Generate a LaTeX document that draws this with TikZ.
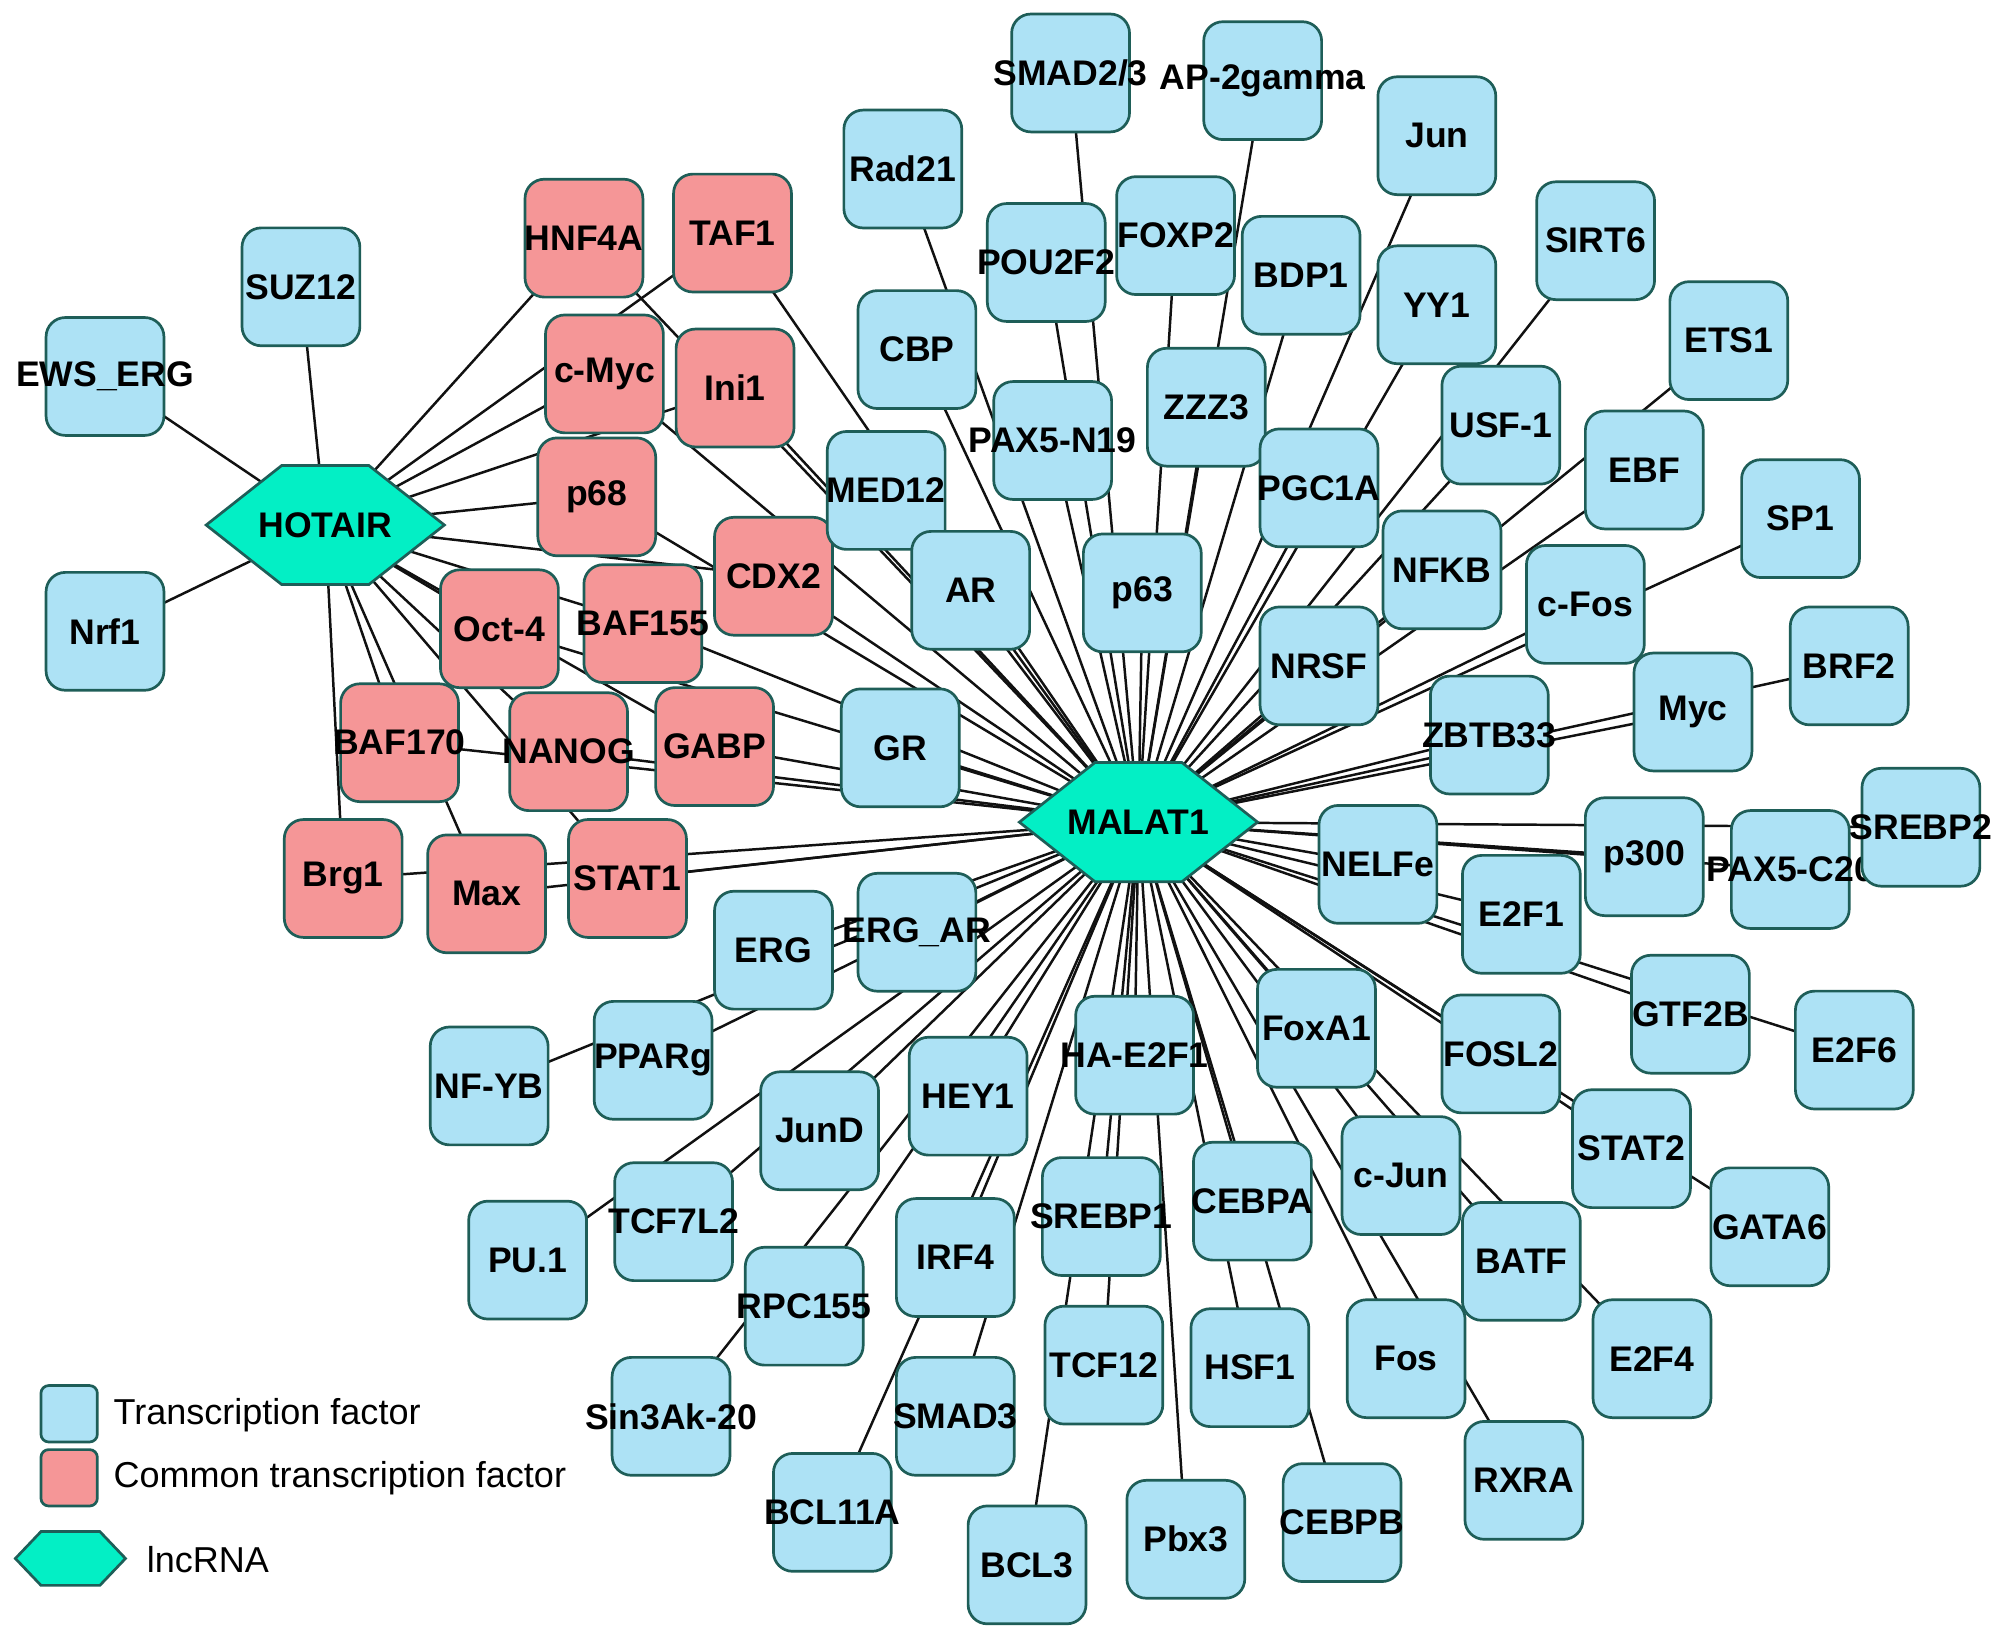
\documentclass[tikz,border=0pt]{standalone}
\usepackage{fontspec}
\setmainfont{Liberation Sans}
\usetikzlibrary{calc,backgrounds}
\definecolor{tfblue}{HTML}{ADE2F5}
\definecolor{ctfred}{HTML}{F59697}
\definecolor{hexfill}{HTML}{03EFC5}
\definecolor{bordc}{HTML}{1E5E58}
\definecolor{edgec}{HTML}{111111}
\tikzset{
  tf/.style={draw=bordc, line width=0.6pt, fill=tfblue, rounded corners=0.15cm,
    minimum width=0.92cm, minimum height=0.92cm, inner sep=0pt},
  ctf/.style={tf, fill=ctfred},
  lbl/.style={inner sep=0pt, font=\bfseries\fontsize{7.9pt}{9pt}\selectfont},
  legtxt/.style={inner sep=0pt, font=\fontsize{8pt}{9.5pt}\selectfont},
  hexs/.style={draw=bordc, line width=0.6pt, fill=hexfill},
  conn/.style={draw=edgec, line width=0.55pt},
}
\newcommand\TF[4]{\node[#1] (#2) at (#3) {}; \node[lbl] (#2-t) at (#2) {#4};}
\newcommand\HUB[3]{%
  \coordinate (#1-c) at (#2);
  \path[hexs] ($(#1-c)+(-93,0)$) -- ($(#1-c)+(-34,-46.5)$) -- ($(#1-c)+(34,-46.5)$)
     -- ($(#1-c)+(93,0)$) -- ($(#1-c)+(34,46.5)$) -- ($(#1-c)+(-34,46.5)$) -- cycle;
  \node[lbl] (#1) at (#1-c) {#3};}
\begin{document}
\begin{tikzpicture}[x=0.01cm,y=-0.01cm]
\useasboundingbox (0,0) rectangle (1568,1280);
% hubs
\HUB{hotair}{254,410}{HOTAIR}
\HUB{malat}{889,642}{MALAT1}
% HOTAIR-only TFs
\TF{tf}{suz12}{235,224}{SUZ12}
\TF{tf}{ewserg}{82,294}{EWS\_ERG}
\TF{tf}{nrf1}{82,493}{Nrf1}
% common TFs
\TF{ctf}{hnf4a}{456,186}{HNF4A}
\TF{ctf}{taf1}{572,182}{TAF1}
\TF{ctf}{cmyc}{472,292}{c-Myc}
\TF{ctf}{ini1}{574,303}{Ini1}
\TF{ctf}{p68}{466,388}{p68}
\TF{ctf}{cdx2}{604,450}{CDX2}
\TF{ctf}{oct4}{390,491}{Oct-4}
\TF{ctf}{baf155}{502,487}{BAF155}
\TF{ctf}{baf170}{312,580}{BAF170}
\TF{ctf}{nanog}{444,587}{NANOG}
\TF{ctf}{gabp}{558,583}{GABP}
\TF{ctf}{brg1}{268,686}{Brg1}
\TF{ctf}{max}{380,698}{Max}
\TF{ctf}{stat1}{490,686}{STAT1}
% MALAT1 TFs
\TF{tf}{smad23}{836,57}{SMAD2/3}
\TF{tf}{ap2}{986,63}{AP-2gamma}
\TF{tf}{jun}{1122,106}{Jun}
\TF{tf}{rad21}{705,132}{Rad21}
\TF{tf}{foxp2}{918,184}{FOXP2}
\TF{tf}{pou2f2}{817,205}{POU2F2}
\TF{tf}{bdp1}{1016,215}{BDP1}
\TF{tf}{sirt6}{1246,188}{SIRT6}
\TF{tf}{yy1}{1122,238}{YY1}
\TF{tf}{cbp}{716,273}{CBP}
\TF{tf}{ets1}{1350,266}{ETS1}
\TF{tf}{zzz3}{942,318}{ZZZ3}
\TF{tf}{pax5n}{822,344}{PAX5-N19}
\TF{tf}{usf1}{1172,332}{USF-1}
\TF{tf}{med12}{692,383}{MED12}
\TF{tf}{pgc1a}{1030,381}{PGC1A}
\TF{tf}{ebf}{1284,367}{EBF}
\TF{tf}{sp1}{1406,405}{SP1}
\TF{tf}{ar}{758,461}{AR}
\TF{tf}{p63}{892,463}{p63}
\TF{tf}{nfkb}{1126,445}{NFKB}
\TF{tf}{cfos}{1238,472}{c-Fos}
\TF{tf}{brf2}{1444,520}{BRF2}
\TF{tf}{nrsf}{1030,520}{NRSF}
\TF{tf}{gr}{703,584}{GR}
\TF{tf}{myc}{1322,556}{Myc}
\TF{tf}{zbtb33}{1163,574}{ZBTB33}
\TF{tf}{nelfe}{1076,675}{NELFe}
\TF{tf}{p300}{1284,669}{p300}
\TF{tf}{pax5c}{1398,679}{PAX5-C20}
\TF{tf}{srebp2}{1500,646}{SREBP2}
\TF{tf}{e2f1}{1188,714}{E2F1}
\TF{tf}{ergar}{716,728}{ERG\_AR}
\TF{tf}{erg}{604,742}{ERG}
\TF{tf}{gtf2b}{1320,792}{GTF2B}
\TF{tf}{e2f6}{1448,820}{E2F6}
\TF{tf}{foxa1}{1028,803}{FoxA1}
\TF{tf}{fosl2}{1172,823}{FOSL2}
\TF{tf}{hae2f1}{886,824}{HA-E2F1}
\TF{tf}{pparg}{510,828}{PPARg}
\TF{tf}{nfyb}{382,848}{NF-YB}
\TF{tf}{hey1}{756,856}{HEY1}
\TF{tf}{jund}{640,883}{JunD}
\TF{tf}{stat2}{1274,897}{STAT2}
\TF{tf}{cjun}{1094,918}{c-Jun}
\TF{tf}{cebpa}{978,938}{CEBPA}
\TF{tf}{srebp1}{860,950}{SREBP1}
\TF{tf}{gata6}{1382,958}{GATA6}
\TF{tf}{tcf7l2}{526,954}{TCF7L2}
\TF{tf}{pu1}{412,984}{PU.1}
\TF{tf}{irf4}{746,982}{IRF4}
\TF{tf}{batf}{1188,985}{BATF}
\TF{tf}{rpc155}{628,1020}{RPC155}
\TF{tf}{tcf12}{862,1066}{TCF12}
\TF{tf}{hsf1}{976,1068}{HSF1}
\TF{tf}{fos}{1098,1061}{Fos}
\TF{tf}{e2f4}{1290,1061}{E2F4}
\TF{tf}{smad3}{746,1106}{SMAD3}
\TF{tf}{sin3ak}{524,1106}{Sin3Ak-20}
\TF{tf}{rxra}{1190,1156}{RXRA}
\TF{tf}{bcl11a}{650,1181}{BCL11A}
\TF{tf}{cebpb}{1048,1189}{CEBPB}
\TF{tf}{pbx3}{926,1202}{Pbx3}
\TF{tf}{bcl3}{802,1222}{BCL3}
% edges
\begin{pgfonlayer}{background}
\foreach \n in {suz12,ewserg,nrf1,hnf4a,taf1,cmyc,ini1,p68,cdx2,oct4,baf155,baf170,nanog,gabp,brg1,max,stat1}
  \draw[conn] (hotair.center) -- (\n.center);
\foreach \n in {hnf4a,taf1,cmyc,ini1,p68,cdx2,oct4,baf155,baf170,nanog,gabp,brg1,max,stat1,
  smad23,ap2,jun,rad21,foxp2,pou2f2,bdp1,sirt6,yy1,cbp,ets1,zzz3,pax5n,usf1,med12,pgc1a,ebf,sp1,
  ar,p63,nfkb,cfos,brf2,nrsf,gr,myc,zbtb33,nelfe,p300,pax5c,srebp2,e2f1,ergar,erg,gtf2b,e2f6,
  foxa1,fosl2,hae2f1,pparg,nfyb,hey1,jund,stat2,cjun,cebpa,srebp1,gata6,tcf7l2,pu1,irf4,batf,
  rpc155,tcf12,hsf1,fos,e2f4,smad3,sin3ak,rxra,bcl11a,cebpb,pbx3,bcl3}
  \draw[conn] (malat.center) -- (\n.center);
\end{pgfonlayer}
% legend
\node[tf, minimum width=0.44cm, minimum height=0.44cm, rounded corners=0.06cm] (legtf) at (54,1104) {};
\node[legtxt, anchor=west] (legtf-t) at (88,1105) {Transcription factor};
\node[ctf, minimum width=0.44cm, minimum height=0.44cm, rounded corners=0.06cm] (legctf) at (54,1154) {};
\node[legtxt, anchor=west] (legctf-t) at (88,1154) {Common transcription factor};
\coordinate (leghex) at (55,1217);
\path[hexs] ($(leghex)+(-43,0)$) -- ($(leghex)+(-23,-21)$) -- ($(leghex)+(23,-21)$)
   -- ($(leghex)+(43,0)$) -- ($(leghex)+(23,21)$) -- ($(leghex)+(-23,21)$) -- cycle;
\node[legtxt, anchor=west] (leghex-t) at (114,1218) {lncRNA};
\end{tikzpicture}
\end{document}
